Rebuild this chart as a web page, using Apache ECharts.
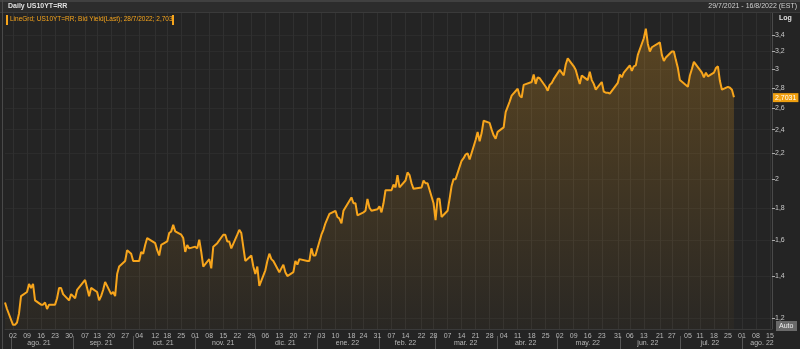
<!DOCTYPE html>
<html>
<head>
<meta charset="utf-8">
<script src="https://cdn.jsdelivr.net/npm/echarts@6/dist/echarts.min.js"></script>
<style>
html,body{margin:0;padding:0;background:#242424;}
#c{width:800px;height:349px;}
</style>
</head>
<body>
<div id="c"></div>
<script>
// ---- data ----
const tradeDates = [
'2021-07-29','2021-07-30',
'2021-08-02','2021-08-03','2021-08-04','2021-08-05','2021-08-06','2021-08-09','2021-08-10','2021-08-11','2021-08-12','2021-08-13',
'2021-08-16','2021-08-17','2021-08-18','2021-08-19','2021-08-20','2021-08-23','2021-08-24','2021-08-25','2021-08-26','2021-08-27',
'2021-08-30','2021-08-31',
'2021-09-01','2021-09-02','2021-09-03','2021-09-07','2021-09-08','2021-09-09','2021-09-10','2021-09-13','2021-09-14','2021-09-15',
'2021-09-16','2021-09-17','2021-09-20','2021-09-21','2021-09-22','2021-09-23','2021-09-24','2021-09-27','2021-09-28','2021-09-29','2021-09-30',
'2021-10-01','2021-10-04','2021-10-05','2021-10-06','2021-10-07','2021-10-08','2021-10-12','2021-10-13','2021-10-14','2021-10-15',
'2021-10-18','2021-10-19','2021-10-20','2021-10-21','2021-10-22','2021-10-25','2021-10-26','2021-10-27','2021-10-28','2021-10-29',
'2021-11-01','2021-11-02','2021-11-03','2021-11-04','2021-11-05','2021-11-08','2021-11-09','2021-11-10','2021-11-12','2021-11-15',
'2021-11-16','2021-11-17','2021-11-18','2021-11-19','2021-11-22','2021-11-23','2021-11-24','2021-11-26','2021-11-29','2021-11-30',
'2021-12-01','2021-12-02','2021-12-03','2021-12-06','2021-12-07','2021-12-08','2021-12-09','2021-12-10','2021-12-13','2021-12-14',
'2021-12-15','2021-12-16','2021-12-17','2021-12-20','2021-12-21','2021-12-22','2021-12-23','2021-12-27','2021-12-28','2021-12-29',
'2021-12-30','2021-12-31',
'2022-01-03','2022-01-04','2022-01-05','2022-01-06','2022-01-07','2022-01-10','2022-01-11','2022-01-12','2022-01-13','2022-01-14',
'2022-01-18','2022-01-19','2022-01-20','2022-01-21','2022-01-24','2022-01-25','2022-01-26','2022-01-27','2022-01-28','2022-01-31',
'2022-02-01','2022-02-02','2022-02-03','2022-02-04','2022-02-07','2022-02-08','2022-02-09','2022-02-10','2022-02-11','2022-02-14',
'2022-02-15','2022-02-16','2022-02-17','2022-02-18','2022-02-22','2022-02-23','2022-02-24','2022-02-25','2022-02-28',
'2022-03-01','2022-03-02','2022-03-03','2022-03-04','2022-03-07','2022-03-08','2022-03-09','2022-03-10','2022-03-11','2022-03-14',
'2022-03-15','2022-03-16','2022-03-17','2022-03-18','2022-03-21','2022-03-22','2022-03-23','2022-03-24','2022-03-25','2022-03-28',
'2022-03-29','2022-03-30','2022-03-31',
'2022-04-01','2022-04-04','2022-04-05','2022-04-06','2022-04-07','2022-04-08','2022-04-11','2022-04-12','2022-04-13','2022-04-14',
'2022-04-18','2022-04-19','2022-04-20','2022-04-21','2022-04-22','2022-04-25','2022-04-26','2022-04-27','2022-04-28','2022-04-29',
'2022-05-02','2022-05-03','2022-05-04','2022-05-05','2022-05-06','2022-05-09','2022-05-10','2022-05-11','2022-05-12','2022-05-13',
'2022-05-16','2022-05-17','2022-05-18','2022-05-19','2022-05-20','2022-05-23','2022-05-24','2022-05-25','2022-05-26','2022-05-27',
'2022-05-31',
'2022-06-01','2022-06-02','2022-06-03','2022-06-06','2022-06-07','2022-06-08','2022-06-09','2022-06-10','2022-06-13','2022-06-14',
'2022-06-15','2022-06-16','2022-06-17','2022-06-21','2022-06-22','2022-06-23','2022-06-24','2022-06-27','2022-06-28','2022-06-29',
'2022-06-30',
'2022-07-01','2022-07-05','2022-07-06','2022-07-07','2022-07-08','2022-07-11','2022-07-12','2022-07-13','2022-07-14','2022-07-15',
'2022-07-18','2022-07-19','2022-07-20','2022-07-21','2022-07-22','2022-07-25','2022-07-26','2022-07-27','2022-07-28'
];
const yields = [
1.27,1.24,
1.17,1.17,1.18,1.22,1.30,1.32,1.36,1.34,1.36,1.28,
1.26,1.26,1.27,1.24,1.26,1.26,1.29,1.34,1.34,1.31,
1.28,1.31,
1.30,1.29,1.33,1.38,1.34,1.30,1.34,1.32,1.28,1.30,
1.33,1.37,1.31,1.32,1.30,1.41,1.45,1.48,1.54,1.53,1.52,
1.48,1.48,1.53,1.52,1.57,1.61,1.58,1.54,1.51,1.57,
1.59,1.64,1.65,1.69,1.65,1.63,1.61,1.53,1.57,1.55,
1.56,1.55,1.60,1.53,1.45,1.49,1.44,1.56,1.58,1.63,
1.63,1.59,1.59,1.55,1.63,1.66,1.64,1.48,1.51,1.45,
1.41,1.45,1.35,1.43,1.48,1.52,1.49,1.48,1.42,1.44,
1.46,1.42,1.40,1.42,1.48,1.46,1.49,1.48,1.48,1.55,
1.51,1.51,
1.63,1.66,1.70,1.73,1.76,1.78,1.74,1.73,1.70,1.78,
1.87,1.83,1.83,1.75,1.77,1.78,1.86,1.80,1.78,1.79,
1.81,1.77,1.83,1.92,1.92,1.96,1.94,2.03,1.94,1.99,
2.05,2.03,1.97,1.93,1.94,1.99,1.97,1.97,1.83,
1.72,1.86,1.86,1.74,1.78,1.86,1.95,2.00,2.00,2.14,
2.16,2.19,2.20,2.15,2.31,2.38,2.30,2.37,2.48,2.46,
2.40,2.35,2.32,
2.38,2.42,2.56,2.61,2.66,2.72,2.79,2.72,2.70,2.83,
2.86,2.94,2.84,2.91,2.90,2.81,2.77,2.83,2.85,2.89,
2.99,2.96,2.93,3.05,3.12,3.03,2.99,2.91,2.84,2.93,
2.88,2.97,2.88,2.84,2.78,2.86,2.76,2.75,2.75,2.74,
2.85,
2.94,2.91,2.96,3.04,2.98,3.03,3.04,3.16,3.36,3.48,
3.29,3.20,3.25,3.31,3.16,3.09,3.13,3.20,3.20,3.10,
3.01,
2.88,2.81,2.93,3.00,3.08,2.99,2.96,2.91,2.96,2.92,
2.96,3.01,3.03,2.87,2.78,2.81,2.80,2.78,2.703
];
const weekTicks = [
'2021-08-02','2021-08-09','2021-08-16','2021-08-23','2021-08-30','2021-09-07','2021-09-13','2021-09-20','2021-09-27',
'2021-10-04','2021-10-12','2021-10-18','2021-10-25','2021-11-01','2021-11-08','2021-11-15','2021-11-22','2021-11-29',
'2021-12-06','2021-12-13','2021-12-20','2021-12-27','2022-01-03','2022-01-10','2022-01-18','2022-01-24','2022-01-31',
'2022-02-07','2022-02-14','2022-02-22','2022-02-28','2022-03-07','2022-03-14','2022-03-21','2022-03-28','2022-04-04',
'2022-04-11','2022-04-18','2022-04-25','2022-05-02','2022-05-09','2022-05-16','2022-05-23','2022-05-31','2022-06-06',
'2022-06-13','2022-06-21','2022-06-27','2022-07-05','2022-07-11','2022-07-18','2022-07-25','2022-08-01','2022-08-08','2022-08-15'
];
const monthStarts = ['2021-08-01','2021-09-01','2021-10-01','2021-11-01','2021-12-01','2022-01-01','2022-02-01','2022-03-01',
'2022-04-01','2022-05-01','2022-06-01','2022-07-01','2022-08-01'];
const monthLabelDates = ['2021-08-15','2021-09-15','2021-10-16','2021-11-15','2021-12-16','2022-01-16','2022-02-14','2022-03-16',
'2022-04-15','2022-05-16','2022-06-15','2022-07-16','2022-08-11'];
const monthNames = ['ene.','feb.','mar.','abr.','may.','jun.','jul.','ago.','sep.','oct.','nov.','dic.'];
const yTicks = [1.2,1.4,1.6,1.8,2,2.2,2.4,2.6,2.8,3,3.2,3.4];
const rangeStart = '2021-07-29', rangeEnd = '2022-08-16';
const lastLabel = '2,7031';
const titleText = 'Daily US10YT=RR';
const rangeText = '29/7/2021 - 16/8/2022 (EST)';
const legendText = 'LineGrd; US10YT=RR; Bid Yield(Last); 28/7/2022; 2,703';

// ---- helpers ----
function ts(s){const p=s.split('-');return new Date(+p[0],+p[1]-1,+p[2]).getTime();}
function pad(n){return (n<10?'0':'')+n;}
const seriesData = tradeDates.map((d,i)=>[ts(d),yields[i]]);
const FONT = 'Liberation Sans';
const orange = '#f7a51c';

const chart = echarts.init(document.getElementById('c'));
chart.setOption({
  backgroundColor:'#242424',
  animation:false,
  grid:{left:5,right:28,top:13,bottom:20,show:false},
  xAxis:[{
    type:'value', min:ts(rangeStart), max:ts(rangeEnd), position:'bottom',
    axisLine:{show:true,lineStyle:{color:'#3a3a3a',width:1}},
    axisTick:{show:false,customValues:weekTicks.map(ts)},
    axisLabel:{customValues:weekTicks.map(ts),color:'#b8b8b8',fontSize:7,fontFamily:FONT,margin:4,hideOverlap:false,
      formatter:v=>pad(new Date(+v).getDate())},
    splitLine:{show:true,lineStyle:{color:'#303030',width:1}}
  },{
    type:'value', min:ts(rangeStart), max:ts(rangeEnd), position:'bottom', offset:7,
    axisLine:{show:false},
    axisTick:{show:true,customValues:monthStarts.map(ts),length:13,lineStyle:{color:'#555'}},
    axisLabel:{customValues:monthLabelDates.map(ts),color:'#b8b8b8',fontSize:7,fontFamily:FONT,margin:4,hideOverlap:false,
      formatter:v=>{const d=new Date(+v);return monthNames[d.getMonth()]+' '+String(d.getFullYear()).slice(2);}},
    splitLine:{show:false}
  }],
  yAxis:{
    type:'log', logBase:10, position:'right', min:1.152, max:3.687,
    axisLine:{show:true,lineStyle:{color:'#4a4a4a'}},
    axisTick:{show:true,inside:false,length:3,customValues:yTicks,lineStyle:{color:'#aaa'}},
    axisLabel:{customValues:yTicks,color:'#c8c8c8',fontSize:7,fontFamily:FONT,margin:3,
      formatter:v=>String(+(+v).toFixed(1)).replace('.',',')},
    splitLine:{show:true,lineStyle:{color:'#2c2c2c'}}
  },
  series:[{
    type:'line', xAxisIndex:0, data:seriesData, showSymbol:false, smooth:false,
    lineStyle:{color:orange,width:2},
    itemStyle:{color:orange},
    areaStyle:{origin:'start',color:new echarts.graphic.LinearGradient(0,0,0,1,[
      {offset:0,color:'rgba(247,165,28,0.36)'},{offset:1,color:'rgba(247,165,28,0.04)'}])},
    markLine:{silent:true,symbol:['none','none'],
      lineStyle:{color:'rgba(0,0,0,0)',width:0,type:'solid'},
      data:[{yAxis:yields[yields.length-1]}],
      label:{show:true,position:'end',formatter:lastLabel,backgroundColor:'#f0a010',color:'#fff',fontSize:7,fontFamily:FONT,padding:[1,2,1,2],distance:1}}
  }],
  graphic:[
    {type:'rect',shape:{x:0,y:0,width:800,height:12},style:{fill:'#2c2c2c'},z:10},
    {type:'line',shape:{x1:0,y1:1,x2:800,y2:1},style:{stroke:'#555',lineWidth:1},z:11},
    {type:'line',shape:{x1:0,y1:12.5,x2:800,y2:12.5},style:{stroke:'#3a3a3a',lineWidth:1},z:11},
    {type:'line',shape:{x1:2.5,y1:0,x2:2.5,y2:349},style:{stroke:'#4a4a4a',lineWidth:1},z:11},
    {type:'text',left:8,top:3,style:{text:titleText,fill:'#e0e0e0',font:'bold 7px '+FONT},z:12},
    {type:'text',right:3,top:3,style:{text:rangeText,fill:'#d0d0d0',font:'7px '+FONT},z:12},
    {type:'rect',shape:{x:6,y:15,width:2,height:10},style:{fill:orange},z:12},
    {type:'rect',shape:{x:172,y:15,width:2,height:10},style:{fill:orange},z:12},
    {type:'text',left:10,top:16,style:{text:legendText,fill:orange,font:'6.5px '+FONT},z:12},
    {type:'text',left:779,top:15,style:{text:'Log',fill:'#e0e0e0',font:'bold 7px '+FONT},z:12},
    {type:'rect',shape:{x:776,y:321,width:21,height:10},style:{fill:'#6a6a6a'},z:12},
    {type:'text',left:779,top:323,style:{text:'Auto',fill:'#f0f0f0',font:'7px '+FONT},z:13}
  ]
});
</script>
</body>
</html>
